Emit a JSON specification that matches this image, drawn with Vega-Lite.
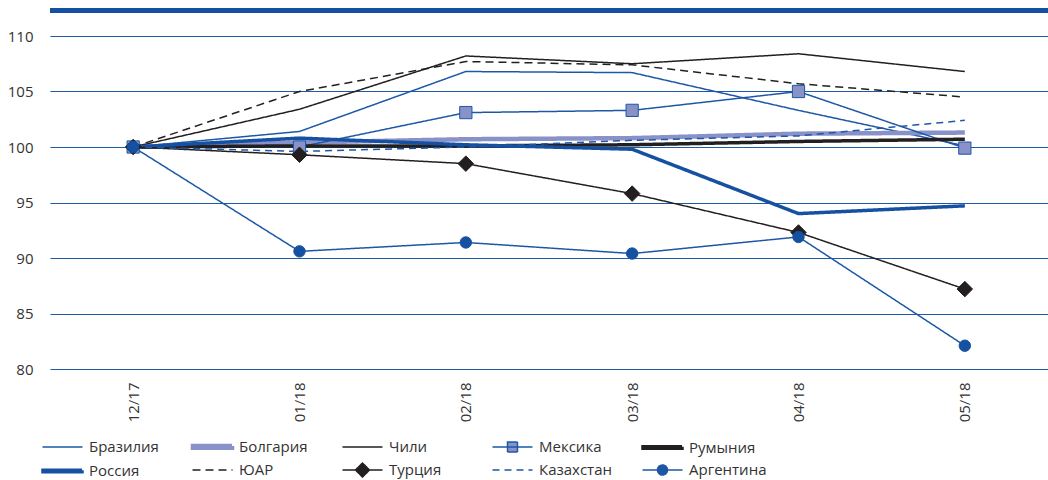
{
  "$schema": "https://vega.github.io/schema/vega-lite/v6.json",
  "width": 998,
  "height": 333,
  "autosize": "none",
  "padding": {"left": 50, "top": 36, "right": 0, "bottom": 111},
  "background": "white",
  "config": {
    "view": {"stroke": null},
    "font": "Open Sans",
    "legend": {"gridAlign": "all"}
  },
  "data": {
    "values": [
      {"month": "12/17", "country": "Бразилия", "value": 100},
      {"month": "01/18", "country": "Бразилия", "value": 101.4},
      {"month": "02/18", "country": "Бразилия", "value": 106.8},
      {"month": "03/18", "country": "Бразилия", "value": 106.7},
      {"month": "04/18", "country": "Бразилия", "value": 103.3},
      {"month": "05/18", "country": "Бразилия", "value": 100.1},
      {"month": "12/17", "country": "Болгария", "value": 100},
      {"month": "01/18", "country": "Болгария", "value": 100.4},
      {"month": "02/18", "country": "Болгария", "value": 100.7},
      {"month": "03/18", "country": "Болгария", "value": 100.8},
      {"month": "04/18", "country": "Болгария", "value": 101.2},
      {"month": "05/18", "country": "Болгария", "value": 101.3},
      {"month": "12/17", "country": "Чили", "value": 100},
      {"month": "01/18", "country": "Чили", "value": 103.4},
      {"month": "02/18", "country": "Чили", "value": 108.2},
      {"month": "03/18", "country": "Чили", "value": 107.5},
      {"month": "04/18", "country": "Чили", "value": 108.4},
      {"month": "05/18", "country": "Чили", "value": 106.8},
      {"month": "12/17", "country": "Мексика", "value": 100},
      {"month": "01/18", "country": "Мексика", "value": 100.0},
      {"month": "02/18", "country": "Мексика", "value": 103.1},
      {"month": "03/18", "country": "Мексика", "value": 103.3},
      {"month": "04/18", "country": "Мексика", "value": 105.0},
      {"month": "05/18", "country": "Мексика", "value": 99.9},
      {"month": "12/17", "country": "Румыния", "value": 100},
      {"month": "01/18", "country": "Румыния", "value": 100.1},
      {"month": "02/18", "country": "Румыния", "value": 100.1},
      {"month": "03/18", "country": "Румыния", "value": 100.2},
      {"month": "04/18", "country": "Румыния", "value": 100.5},
      {"month": "05/18", "country": "Румыния", "value": 100.7},
      {"month": "12/17", "country": "Россия", "value": 100},
      {"month": "01/18", "country": "Россия", "value": 100.8},
      {"month": "02/18", "country": "Россия", "value": 100.2},
      {"month": "03/18", "country": "Россия", "value": 99.8},
      {"month": "04/18", "country": "Россия", "value": 94.0},
      {"month": "05/18", "country": "Россия", "value": 94.7},
      {"month": "12/17", "country": "ЮАР", "value": 100},
      {"month": "01/18", "country": "ЮАР", "value": 105.0},
      {"month": "02/18", "country": "ЮАР", "value": 107.7},
      {"month": "03/18", "country": "ЮАР", "value": 107.4},
      {"month": "04/18", "country": "ЮАР", "value": 105.7},
      {"month": "05/18", "country": "ЮАР", "value": 104.5},
      {"month": "12/17", "country": "Турция", "value": 100},
      {"month": "01/18", "country": "Турция", "value": 99.3},
      {"month": "02/18", "country": "Турция", "value": 98.5},
      {"month": "03/18", "country": "Турция", "value": 95.8},
      {"month": "04/18", "country": "Турция", "value": 92.3},
      {"month": "05/18", "country": "Турция", "value": 87.2},
      {"month": "12/17", "country": "Казахстан", "value": 100},
      {"month": "01/18", "country": "Казахстан", "value": 99.6},
      {"month": "02/18", "country": "Казахстан", "value": 100.0},
      {"month": "03/18", "country": "Казахстан", "value": 100.6},
      {"month": "04/18", "country": "Казахстан", "value": 101.0},
      {"month": "05/18", "country": "Казахстан", "value": 102.4},
      {"month": "12/17", "country": "Аргентина", "value": 100},
      {"month": "01/18", "country": "Аргентина", "value": 90.6},
      {"month": "02/18", "country": "Аргентина", "value": 91.4},
      {"month": "03/18", "country": "Аргентина", "value": 90.4},
      {"month": "04/18", "country": "Аргентина", "value": 91.9},
      {"month": "05/18", "country": "Аргентина", "value": 82.1}
    ]
  },
  "encoding": {
    "x": {
      "field": "month",
      "type": "ordinal",
      "sort": null,
      "scale": {"type": "point", "padding": 0.5},
      "axis": {
        "title": null,
        "domain": false,
        "ticks": false,
        "grid": false,
        "labelAngle": -90,
        "labelAlign": "right",
        "labelBaseline": "middle",
        "labelPadding": 13,
        "labelFont": "Open Sans",
        "labelFontSize": 15,
        "labelColor": "#333333"
      }
    },
    "y": {
      "field": "value",
      "type": "quantitative",
      "scale": {"domain": [80, 110], "nice": false, "zero": false},
      "axis": {
        "title": null,
        "values": [80, 85, 90, 95, 100, 105, 110],
        "domain": false,
        "ticks": false,
        "grid": true,
        "gridColor": "#1f5aa6",
        "gridWidth": 1,
        "labelPadding": 17,
        "labelFont": "Open Sans",
        "labelFontSize": 15,
        "labelColor": "#333333"
      }
    }
  },
  "layer": [
    {
      "mark": {"type": "rule", "color": "#1650a0", "strokeWidth": 5},
      "encoding": {"y": {"datum": 112.3}, "x": null}
    },
    {
      "mark": {"type": "line"},
      "encoding": {
        "color": {
          "field": "country",
          "type": "nominal",
          "scale": {
            "domain": ["Бразилия", "Болгария", "Чили", "Мексика", "Румыния", "Россия", "ЮАР", "Турция", "Казахстан", "Аргентина"],
            "range": ["#1d57a5", "#8891c8", "#231f20", "#1d57a5", "#231f20", "#1550a1", "#231f20", "#231f20", "#1d57a5", "#1d57a5"]
          },
          "legend": {
            "orient": "none",
            "legendX": -9,
            "legendY": 398,
            "direction": "horizontal",
            "columns": 5,
            "title": null,
            "padding": 0,
            "symbolSize": 400,
            "symbolStrokeWidth": 1.5,
            "rowPadding": 2,
            "columnPadding": 17,
            "gridAlign": "all",
            "labelFont": "Open Sans",
            "labelFontSize": 15,
            "labelColor": "#333333",
            "labelOffset": 23,
            "encode": {
              "symbols": {
                "update": {
                  "shape": {"signal": "datum.value === 'Мексика' ? 'M-1.1,0H2.9M0.4,-0.5H1.4V0.5H0.4Z' : datum.value === 'Турция' ? 'M-1.1,0H2.9M0.9,-0.7L1.6,0L0.9,0.7L0.2,0Z' : datum.value === 'Аргентина' ? 'M-1.1,0H2.9M0.4,0A0.5,0.5 0 1,0 1.4,0A0.5,0.5 0 1,0 0.4,0Z' : (datum.value === 'Болгария' || datum.value === 'Румыния' || datum.value === 'Россия') ? 'M-1.05,-0.08H2.85V0.08H-1.05Z' : 'M-1.1,0H2.9'"},
                  "fill": {"signal": "datum.value === 'Мексика' ? '#8891c8' : scale('color', datum.value)"},
                  "fillOpacity": {"value": 1},
                  "strokeDash": {"signal": "(datum.value === 'ЮАР' || datum.value === 'Казахстан') ? [8, 6] : [1, 0]"},
                  "strokeWidth": {"value": 1.5}
                }
              }
            }
          }
        },
        "strokeDash": {
          "field": "country",
          "type": "nominal",
          "scale": {
            "type": "ordinal",
            "domain": ["Бразилия", "Болгария", "Чили", "Мексика", "Румыния", "Россия", "ЮАР", "Турция", "Казахстан", "Аргентина"],
            "range": [[1, 0], [1, 0], [1, 0], [1, 0], [1, 0], [1, 0], [8, 5], [1, 0], [7, 5], [1, 0]]
          },
          "legend": null
        },
        "strokeWidth": {
          "field": "country",
          "type": "nominal",
          "scale": {
            "type": "ordinal",
            "domain": ["Бразилия", "Болгария", "Чили", "Мексика", "Румыния", "Россия", "ЮАР", "Турция", "Казахстан", "Аргентина"],
            "range": [1.5, 4.5, 1.5, 1.5, 3.5, 3.5, 1.5, 1.5, 1.5, 1.5]
          },
          "legend": null
        }
      }
    },
    {
      "transform": [{"filter": {"field": "country", "oneOf": ["Мексика", "Турция", "Аргентина"]}}],
      "mark": {"type": "point", "filled": false, "opacity": 1, "strokeWidth": 1},
      "encoding": {
        "shape": {
          "field": "country",
          "type": "nominal",
          "scale": {"domain": ["Мексика", "Турция", "Аргентина"], "range": ["square", "diamond", "circle"]},
          "legend": null
        },
        "size": {
          "field": "country",
          "type": "nominal",
          "scale": {"type": "ordinal", "domain": ["Мексика", "Турция", "Аргентина"], "range": [150, 240, 130]},
          "legend": null
        },
        "fill": {
          "field": "country",
          "type": "nominal",
          "scale": {"domain": ["Мексика", "Турция", "Аргентина"], "range": ["#8891c8", "#231f20", "#1550a1"]},
          "legend": null
        },
        "stroke": {
          "field": "country",
          "type": "nominal",
          "scale": {"domain": ["Мексика", "Турция", "Аргентина"], "range": ["#1d57a5", "#231f20", "#1550a1"]},
          "legend": null
        }
      }
    }
  ]
}
